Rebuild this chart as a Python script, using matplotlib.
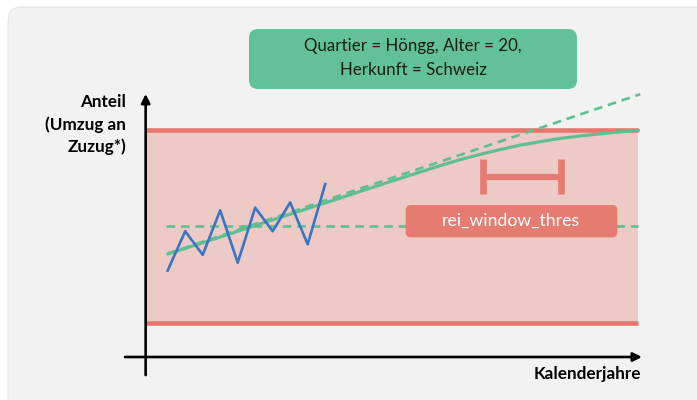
import matplotlib
matplotlib.use("Agg")
import matplotlib.pyplot as plt
from matplotlib.patches import FancyBboxPatch
from matplotlib.transforms import Affine2D

plt.rcParams['font.family'] = ['Lato', 'DejaVu Sans']

# beobachtete Anteile (Jahr -> Anteil in %)
jahre = [1, 2, 3, 4, 5, 6, 7, 8, 9, 10]
anteil = [33, 48, 39, 56, 36, 57, 48, 59, 43, 66]

# geglaetteter Trend mit Saettigung
trend_jahre = [1, 3, 6, 8.5, 10, 12, 14.3, 16.5, 17.7, 18.9, 20, 21.1, 22.3, 23.4, 24.6, 26.3, 27.9]
trend_anteil = [39.3, 43.6, 50.2, 55.6, 58.8, 63.2, 68.2, 72.9, 75.3, 77.4, 79.2, 80.8, 82.2, 83.4, 84.4, 85.6, 86.5]

# lineare Fortschreibung
linear_jahre = [1, 28]
linear_anteil = [39.5, 100.3]

# Mittelwert
mittel_jahre = [0.9, 27.9]
mittel_anteil = [50.1, 50.1]

# erlaubter Bereich
band_jahre = [-0.26, 27.9]
band_unten = 13.0
band_oben = 86.6

# Fensterbreite
fenster_start = 19.0
fenster_ende = 23.5
fenster_y = 68.8
fenster_halb = 6.7

red = '#e8766c'
red_box = '#e57b71'
band = '#eecac6'
green = '#5fbf93'
green_box = '#62c198'
blue = '#3b74c0'

W, H = 697, 400
fig = plt.figure(figsize=(W / 100, H / 100), dpi=100)
fig.patch.set_facecolor('white')

# pixel coords, origin top left
pix = Affine2D().scale(1, -1).translate(0, H).scale(1 / 100) + fig.dpi_scale_trans

panel = FancyBboxPatch((8, 7), W + 20, H + 20, boxstyle='round,pad=0,rounding_size=14',
                       transform=pix, facecolor='#f2f2f2', edgecolor='#e6e6e6', lw=0.8, zorder=-1)
fig.patches.append(panel)

ax = fig.add_axes([0, 0, 1, 1])
ax.set_xlim(-8.583, 31.246)
ax.set_ylim(-16.41, 136.26)
ax.axis('off')
ax.patch.set_alpha(0)

ax.fill_between(band_jahre, band_unten, band_oben, color=band, lw=0, zorder=1)
ax.plot(band_jahre, [band_oben, band_oben], color=red, lw=3.3, solid_capstyle='butt', zorder=2)
ax.plot(band_jahre, [band_unten, band_unten], color=red, lw=3.3, solid_capstyle='butt', zorder=2)

ax.plot(mittel_jahre, mittel_anteil, color=green, lw=1.9, dashes=(3.3, 2.2), zorder=3)
ax.plot(linear_jahre, linear_anteil, color=green, lw=1.9, dashes=(3.3, 2.2), zorder=3)
ax.plot(trend_jahre, trend_anteil, color=green, lw=2.3, solid_capstyle='round', zorder=4)
ax.plot(jahre, anteil, color=blue, lw=1.9, zorder=5)

# Fenster-Klammer
ax.plot([fenster_start, fenster_ende], [fenster_y, fenster_y], color=red_box, lw=4.5,
        solid_capstyle='butt', zorder=5)
for xv in (fenster_start, fenster_ende):
    ax.plot([xv, xv], [fenster_y - fenster_halb, fenster_y + fenster_halb], color=red_box,
            lw=4.8, solid_capstyle='butt', zorder=5)

# Achsen
arrow = dict(arrowstyle='-|>', lw=1.9, color='black', mutation_scale=13, shrinkA=0, shrinkB=0)
ax.annotate('', xy=(-0.26, 100.4), xytext=(-0.26, -6.9), arrowprops=arrow, zorder=6)
ax.annotate('', xy=(28.1, 0), xytext=(-1.44, 0), arrowprops=arrow, zorder=6)

# Boxen
gbox = FancyBboxPatch((249, 29), 328, 60, boxstyle='round,pad=0,rounding_size=9',
                      transform=pix, facecolor=green_box, edgecolor='none', zorder=7)
fig.patches.append(gbox)
rbox = FancyBboxPatch((405.7, 205), 211.6, 32.3, boxstyle='round,pad=0,rounding_size=5',
                      transform=pix, facecolor=red_box, edgecolor='none', zorder=7)
ax.add_patch(rbox)

fig.text(413, 46, 'Quartier = Höngg, Alter = 20,', transform=pix, ha='center', va='center',
         fontsize=12.2, color='#1a1a1a', zorder=8)
fig.text(413, 70, 'Herkunft = Schweiz', transform=pix, ha='center', va='center',
         fontsize=12.2, color='#1a1a1a', zorder=8)
ax.text(511, 221, 'rei_window_thres', transform=pix, ha='center', va='center',
        fontsize=12.7, color='white', zorder=8)

for txt, yy in [('Anteil', 102), ('(Umzug an', 125), ('Zuzug*)', 147)]:
    ax.text(126, yy, txt, transform=pix, ha='right', va='center', fontsize=12.3,
            fontweight='bold', color='black')
ax.text(641, 374, 'Kalenderjahre', transform=pix, ha='right', va='center', fontsize=12.3,
        fontweight='bold', color='black')

fig.savefig('out.png', dpi=100)
